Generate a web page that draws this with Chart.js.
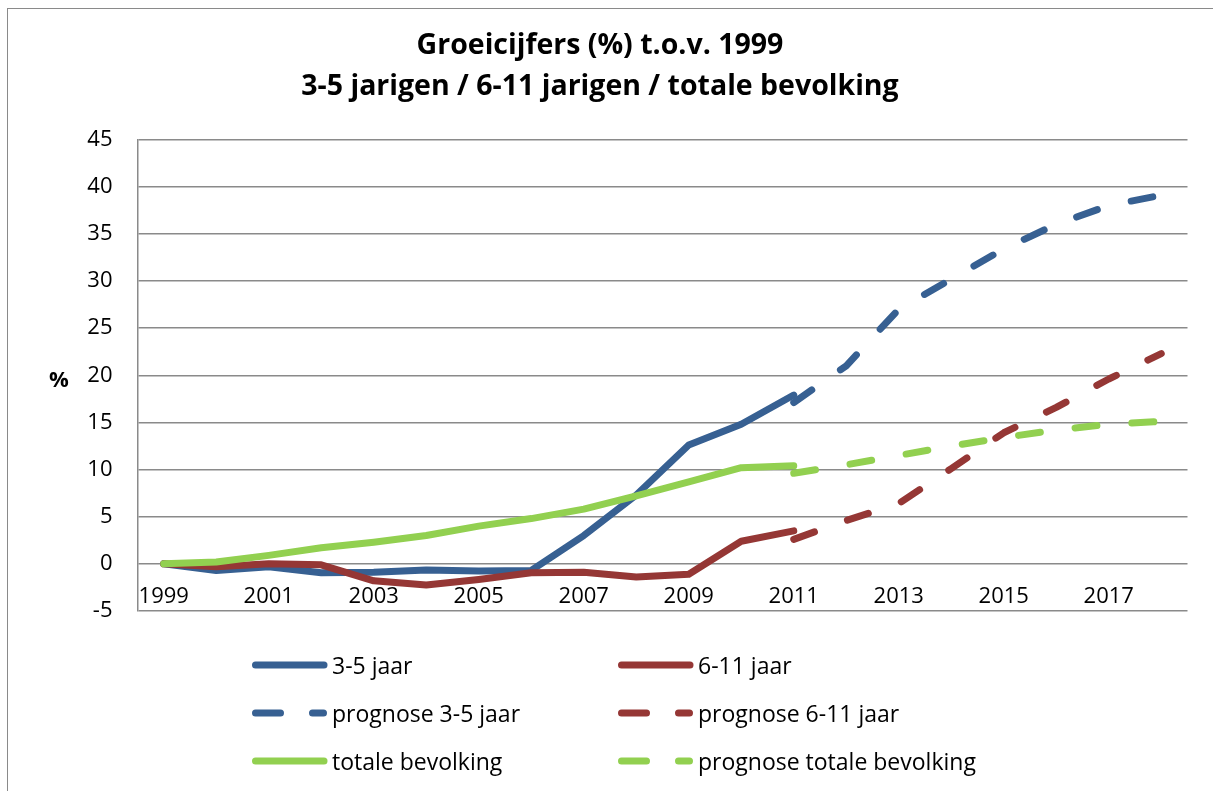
<!DOCTYPE html>
<html>
<head>
<meta charset="utf-8">
<script src="https://cdn.jsdelivr.net/npm/chart.js@4.4.1/dist/chart.umd.min.js"></script>
<style>
  body { margin: 0; background: #fff; font-family: "Open Sans", sans-serif; color: #000; }
  #wrap { position: relative; width: 1213px; height: 791px; overflow: hidden; }
  #kader { position: absolute; left: 7px; top: 8px; width: 1400px; height: 1000px; border: 1.5px solid #8a8a8a; }
  #grafiek { position: absolute; left: 0; top: 0; }
  #titel { position: absolute; left: 0; top: 23px; width: 1200px; text-align: center;
           font-weight: bold; font-size: 28.5px; line-height: 41px; }
  #eenheid { position: absolute; left: 40px; top: 364px; width: 38px; text-align: center;
             font-weight: bold; font-size: 22px; line-height: 28px; }
  #legenda { position: absolute; top: 641px; left: 252px; }
  .rij { display: flex; height: 48px; align-items: center; }
  .item { display: flex; align-items: center; width: 366px; font-size: 23px; }
  .item svg { width: 80px; height: 12px; flex: none; }
</style>
</head>
<body>
<div id="wrap">
  <div id="kader"></div>
  <canvas id="grafiek" width="1213" height="791"></canvas>
  <div id="titel">Groeicijfers (%) t.o.v. 1999<br>3-5 jarigen / 6-11 jarigen / totale bevolking</div>
  <div id="eenheid">%</div>
  <div id="legenda"></div>
</div>
<script>
// Groeicijfers t.o.v. 1999
const jaren = ["1999", "2000", "2001", "2002", "2003", "2004", "2005", "2006", "2007", "2008",
               "2009", "2010", "2011", "2012", "2013", "2014", "2015", "2016", "2017", "2018"];

const jaar35    = [0, -0.7, -0.3, -0.95, -0.9, -0.65, -0.75, -0.7, 3.0, 7.3, 12.6, 14.8, 17.9,
                   null, null, null, null, null, null, null];
const jaar611   = [0, -0.3, 0, -0.1, -1.8, -2.25, -1.65, -0.95, -0.9, -1.4, -1.1, 2.4, 3.5,
                   null, null, null, null, null, null, null];
const totaal    = [0, 0.2, 0.9, 1.7, 2.3, 3.0, 4.0, 4.8, 5.8, 7.2, 8.7, 10.2, 10.4,
                   null, null, null, null, null, null, null];
const prog35    = [null, null, null, null, null, null, null, null, null, null, null, null,
                   17.1, 21.0, 27.0, 30.2, 33.4, 36.0, 38.0, 39.1];
const prog611   = [null, null, null, null, null, null, null, null, null, null, null, null,
                   2.6, 4.6, 6.4, 10.1, 13.9, 16.6, 19.6, 22.3];
const progTot   = [null, null, null, null, null, null, null, null, null, null, null, null,
                   9.6, 10.5, 11.5, 12.5, 13.4, 14.2, 14.8, 15.1];

const yTicks = { min: -5, max: 45, step: 5 };

const BLAUW = "#376092";
const ROOD  = "#953735";
const GROEN = "#92D050";
const STREEP = [22, 35];

// volgorde zoals de legenda (rij voor rij)
const reeksen = [
  { label: "3-5 jaar",                  data: jaar35,  kleur: BLAUW, streep: false },
  { label: "6-11 jaar",                 data: jaar611, kleur: ROOD,  streep: false },
  { label: "prognose 3-5 jaar",         data: prog35,  kleur: BLAUW, streep: true },
  { label: "prognose 6-11 jaar",        data: prog611, kleur: ROOD,  streep: true },
  { label: "totale bevolking",          data: totaal,  kleur: GROEN, streep: false },
  { label: "prognose totale bevolking", data: progTot, kleur: GROEN, streep: true }
];

const datasets = reeksen.map((r, i) => ({
  label: r.label,
  data: r.data,
  borderColor: r.kleur,
  backgroundColor: r.kleur,
  borderWidth: 7,
  borderDash: r.streep ? STREEP : [],
  borderCapStyle: "round",
  borderJoinStyle: "round",
  pointRadius: 0,
  tension: 0,
  fill: false,
  order: reeksen.length - i   // latere reeksen bovenop, zoals in Excel
}));

new Chart(document.getElementById("grafiek"), {
  type: "line",
  data: { labels: jaren, datasets },
  options: {
    responsive: false,
    animation: false,
    layout: { padding: { left: 0, top: 139.5, right: 25.5, bottom: 180 } },
    plugins: {
      legend: { display: false },
      title: { display: false },
      tooltip: { enabled: false }
    },
    scales: {
      x: {
        type: "category",
        offset: true,
        position: { y: 0 },
        grid: { display: false, drawTicks: false },
        border: { display: false },
        ticks: {
          autoSkip: false,
          maxRotation: 0,
          padding: 20,
          color: "#000",
          font: { family: "Open Sans", size: 22 },
          callback: function (val, i) { return i % 2 === 0 ? this.getLabelForValue(val) : ""; }
        }
      },
      y: {
        min: yTicks.min,
        max: yTicks.max,
        afterFit: s => { s.width = 137.5; },
        grid: { color: "#8a8a8a", lineWidth: 1.5, drawTicks: false },
        border: { color: "#8a8a8a", width: 1.5 },
        ticks: {
          stepSize: yTicks.step,
          padding: 25,
          color: "#000",
          font: { family: "Open Sans", size: 22 }
        }
      }
    }
  }
});

// legenda in twee kolommen
const legenda = document.getElementById("legenda");
for (let i = 0; i < reeksen.length; i += 2) {
  const rij = document.createElement("div");
  rij.className = "rij";
  [reeksen[i], reeksen[i + 1]].forEach(r => {
    const dash = r.streep ? 'stroke-dasharray="25 32"' : "";
    const item = document.createElement("div");
    item.className = "item";
    item.innerHTML = `<svg viewBox="0 0 80 12"><line x1="3.5" y1="6" x2="${r.streep ? 71.5 : 72}" y2="6"
      stroke="${r.kleur}" stroke-width="7" stroke-linecap="round" ${dash}/></svg><span>${r.label}</span>`;
    rij.appendChild(item);
  });
  legenda.appendChild(rij);
}
</script>
</body>
</html>
